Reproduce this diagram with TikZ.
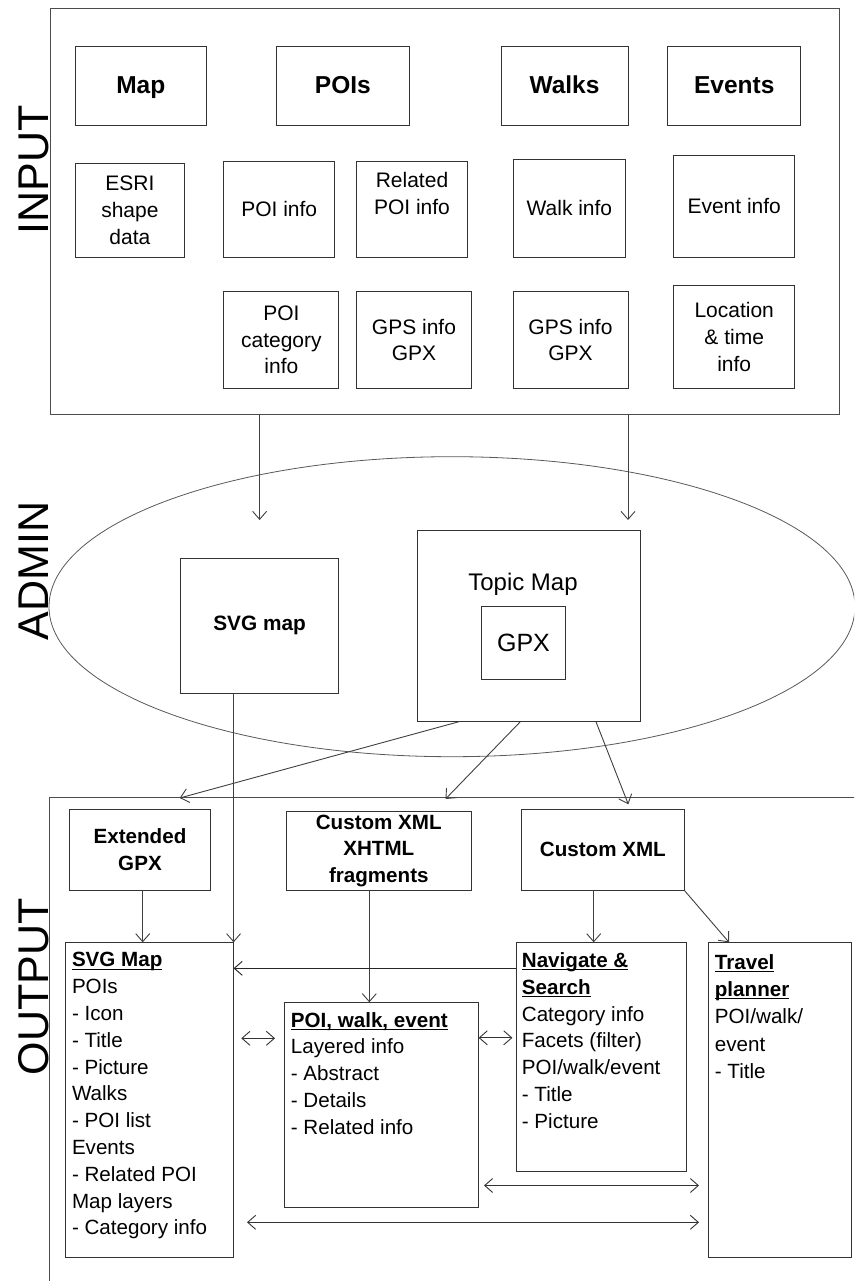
\documentclass[tikz,border=0pt]{standalone}
\usepackage{fontspec}
\setmainfont{Liberation Sans}
\usetikzlibrary{arrows.meta,calc}
\newcommand{\ulb}[1]{\setbox0\hbox{#1}\rlap{\rule[-2.6pt]{\wd0}{1pt}}\box0}
\begin{document}
\begin{tikzpicture}[x=1pt,y=-1pt,
  box/.style={draw=black!80, line width=1pt, inner sep=0pt, align=center, fill=white},
  frame/.style={draw=black!70, line width=1pt},
  head/.style={font=\bfseries\fontsize{24.5}{29}\selectfont, text height=19.6pt, text depth=5pt},
  ibody/.style={font=\fontsize{21}{26.7}\selectfont, align=center},
  obold/.style={font=\bfseries\fontsize{20.6}{26.7}\selectfont, align=center},
  body/.style={font=\fontsize{20.6}{26.8}\selectfont, align=left, anchor=north west, inner sep=0pt},
  side/.style={rotate=90, font=\fontsize{43}{50}\selectfont, inner sep=0pt},
  arr/.style={draw=black!75, line width=0.9pt, -{Straight Barb[length=8pt,width=14pt]}},
  dbl/.style={draw=black!80, line width=0.9pt, {Straight Barb[length=8pt,width=14pt]}-{Straight Barb[length=8pt,width=14pt]}}
]
\useasboundingbox (0,0) rectangle (854,1281);
\fill[white] (0,0) rectangle (854,1281);
\begin{scope}
\clip (0,0) rectangle (854,1281);

% side labels
\node[side] (lin) at (34,170) {INPUT};
\node[side] (ladm) at (34,571) {ADMIN};
\node[side] (lout) at (34,987) {OUTPUT};

% INPUT frame
\node[draw=black!70, line width=1pt, inner sep=0pt, anchor=north west, minimum width=789.2pt, minimum height=405.7pt] (inbox) at (49.6,8.3) {};

% headings
\node[box, head, minimum width=131.2pt, minimum height=78.6pt] (map) at (140.8,86) {Map};
\node[box, head, minimum width=132.3pt, minimum height=78.6pt] (pois) at (342.9,86) {POIs};
\node[box, head, minimum width=127pt, minimum height=78.6pt] (walks) at (564.5,86) {Walks};
\node[box, head, minimum width=132.9pt, minimum height=78.6pt] (events) at (734.3,86) {Events};

% input items
\node[box, ibody, minimum width=109.4pt, minimum height=94pt] (esri) at (129.9,210.3) {ESRI\\shape\\data};
\node[box, ibody, minimum width=110.5pt, minimum height=96pt] (poiinfo) at (279.2,209.3) {POI info};
\node[box, minimum width=110.5pt, minimum height=96pt] (relpoi) at (412,209.3) {};
\node[ibody] (relpoit) at (412,193.6) {Related\\POI info};
\node[box, ibody, minimum width=112.8pt, minimum height=98pt] (walkinfo) at (569.4,208.3) {Walk info};
\node[box, ibody, minimum width=121pt, minimum height=102.3pt] (eventinfo) at (734.2,206.2) {Event info};
\node[box, ibody, minimum width=114.9pt, minimum height=96.6pt] (poicat) at (281.4,340) {POI\\category\\info};
\node[box, ibody, minimum width=114.3pt, minimum height=96.6pt] (gps1) at (414,340) {GPS info\\GPX};
\node[box, ibody, minimum width=115pt, minimum height=96.6pt] (gps2) at (570.5,340) {GPS info\\GPX};
\node[box, ibody, minimum width=121pt, minimum height=102.6pt] (loc) at (734.2,337) {Location\\\& time\\info};

% ADMIN
\draw[draw=black!65, line width=0.8pt] (452,606.7) ellipse [x radius=403pt, y radius=150pt];
\node[box, minimum width=158.5pt, minimum height=134.6pt, font=\bfseries\fontsize{20.8}{26}\selectfont, text height=15pt, text depth=7pt] (svga) at (259.6,626) {SVG map};
\node[box, minimum width=222.8pt, minimum height=190.3pt] (topic) at (528.6,625.9) {};
\node[font=\fontsize{24}{28}\selectfont, anchor=base, inner sep=0pt] (topiclbl) at (523,590.7) {Topic Map};
\node[box, minimum width=83.9pt, minimum height=72.3pt, font=\fontsize{25}{30}\selectfont] (gpx) at (523.5,642.9) {GPX};

\coordinate (a1) at (259.6,520);
\coordinate (a2) at (628,520);
\draw[arr] (inbox.south -| a1) -- (a1);
\draw[arr] (inbox.south -| a2) -- (a2);

% OUTPUT frame
\coordinate (ofl) at (49.6,1300);
\coordinate (oft) at (870,797.3);
\draw[frame] (ofl) |- (oft);

\node[box, obold, minimum width=140.5pt, minimum height=80.7pt] (egpx) at (140,849.7) {Extended\\GPX};
\node[box, obold, minimum width=184.6pt, minimum height=78.3pt] (cxx) at (378.8,850.9) {Custom XML\\XHTML\\fragments};
\node[box, obold, minimum width=162.2pt, minimum height=80.7pt] (cx) at (602.9,849.7) {Custom XML};

\node[box, anchor=north west, minimum width=167.2pt, minimum height=315pt] (svgo) at (65.4,942.3) {};
\node[box, anchor=north west, minimum width=193.4pt, minimum height=204.4pt] (poi) at (284.3,1002.3) {};
\node[box, anchor=north west, minimum width=170.5pt, minimum height=228.7pt] (nav) at (515.8,942.3) {};
\node[box, anchor=north west, minimum width=142.7pt, minimum height=315pt] (trav) at (708,942.3) {};

\node[body] (svgot) at ($(svgo.north west)+(6.4,10.1)$) {\ulb{\textbf{SVG Map}}\\POIs\\- Icon\\- Title\\- Picture\\Walks\\- POI list\\Events\\- Related POI\\Map layers\\- Category info};
\node[body] (poit) at ($(poi.north west)+(6.4,9.7)$) {\ulb{\textbf{POI, walk, event}}\\Layered info\\- Abstract\\- Details\\- Related info};
\node[body] (navt) at ($(nav.north west)+(5.9,10.1)$) {\ulb{\textbf{Navigate \&}}\\\ulb{\textbf{Search}}\\Category info\\Facets (filter)\\POI/walk/event\\- Title\\- Picture};
\node[body] (travt) at ($(trav.north west)+(6.7,12)$) {\ulb{\textbf{Travel}}\\\ulb{\textbf{planner}}\\POI/walk/\\[1.5pt]event\\- Title};

% admin to output
\coordinate (t1) at (179.7,798);
\coordinate (t2) at (445.5,799);
\coordinate (t3) at (628.3,804.3);
\draw[arr] ($(topic.south west)+(42.8,0)$) -- (t1);
\draw[arr] ($(topic.south west)+(103.8,0)$) -- (t2);
\draw[arr] ($(topic.south west)+(179.2,0)$) -- (t3);
\draw[arr] (svga.south -| svgo.north east) -- (svgo.north east);

% output arrows
\coordinate (c1) at ($(egpx.south)+(2.7,0)$);
\coordinate (c2) at ($(cxx.south)+(-9.5,0)$);
\coordinate (c3) at ($(cx.south)+(-9.2,0)$);
\draw[arr] (c1) -- (c1 |- svgo.north);
\draw[arr] (c2) -- (c2 |- poi.north);
\draw[arr] (c3) -- (c3 |- nav.north);
\draw[arr] (cx.south east) -- ($(trav.north west)+(21,0)$);

\coordinate (h1) at ($(nav.north west)+(0,26)$);
\draw[arr, draw=black!85] (h1) -- (h1 -| svgo.east);

\coordinate (d1a) at (241.3,1038.3);
\coordinate (d1b) at (275,1038.3);
\coordinate (d2a) at (478.6,1037.8);
\coordinate (d2b) at (512.4,1037.8);
\coordinate (d3a) at (484,1185.5);
\coordinate (d3b) at (699,1185.5);
\coordinate (d4a) at (247,1222.3);
\coordinate (d4b) at (699,1222.3);
\draw[dbl] (d1a) -- (d1b);
\draw[dbl] (d2a) -- (d2b);
\draw[dbl] (d3a) -- (d3b);
\draw[dbl] (d4a) -- (d4b);
\end{scope}
\end{tikzpicture}
\end{document}
